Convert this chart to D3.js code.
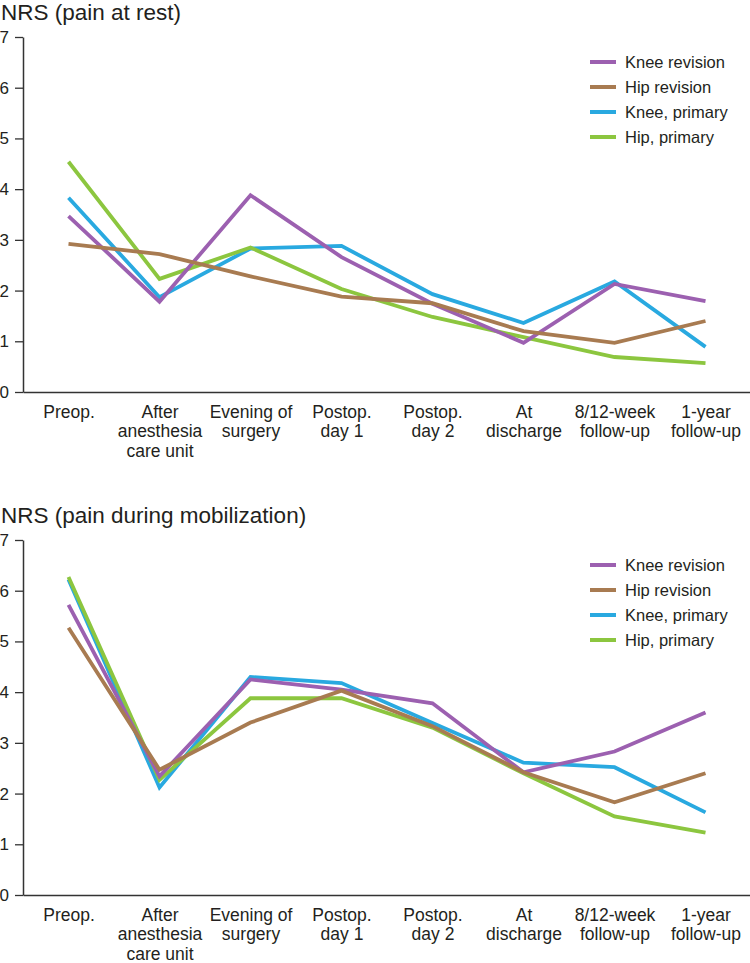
<!DOCTYPE html>
<html>
<head>
<meta charset="utf-8">
<script src="https://cdn.jsdelivr.net/npm/d3@7"></script>
<style>
  body { margin: 0; background: #fff; }
  text { font-family: Arial, "Liberation Sans", Helvetica, sans-serif; fill: #231f20; }
</style>
</head>
<body>
<svg id="chart" width="750" height="963"></svg>
<script>
// time points, one entry per line of the label
const categories = [
  ['Preop.'],
  ['After', 'anesthesia', 'care unit'],
  ['Evening of', 'surgery'],
  ['Postop.', 'day 1'],
  ['Postop.', 'day 2'],
  ['At', 'discharge'],
  ['8/12-week', 'follow-up'],
  ['1-year', 'follow-up']
]
const seriesNames = ['Knee revision', 'Hip revision', 'Knee, primary', 'Hip, primary']
const yTicks = [0, 1, 2, 3, 4, 5, 6, 7]

// NRS pain at rest
const kneeRevRest = [3.47, 1.78, 3.88, 2.66, 1.74, 0.97, 2.13, 1.79]
const hipRevRest = [2.92, 2.72, 2.28, 1.88, 1.75, 1.20, 0.97, 1.40]
const kneePrimRest = [3.83, 1.87, 2.83, 2.88, 1.93, 1.36, 2.18, 0.89]
const hipPrimRest = [4.54, 2.23, 2.85, 2.03, 1.48, 1.08, 0.69, 0.57]

// NRS pain during mobilization
const kneeRevMob = [5.72, 2.34, 4.25, 4.05, 3.78, 2.42, 2.83, 3.60]
const hipRevMob = [5.27, 2.47, 3.40, 4.03, 3.33, 2.42, 1.83, 2.40]
const kneePrimMob = [6.22, 2.12, 4.30, 4.18, 3.39, 2.61, 2.52, 1.63]
const hipPrimMob = [6.27, 2.27, 3.88, 3.88, 3.30, 2.40, 1.55, 1.23]

const colors = {
  'Knee revision': '#9c60b0',
  'Hip revision': '#a87b51',
  'Knee, primary': '#29a9e0',
  'Hip, primary': '#8cc63f'
}
// drawing order (last one ends up on top)
const drawOrder = ['Knee, primary', 'Hip, primary', 'Knee revision', 'Hip revision']

let svg = d3.select('#chart')

let x = d3.scalePoint()
  .domain(d3.range(categories.length))
  .range([23, 751])
  .padding(0.5)

let y = d3.scaleLinear()
  .domain([0, 7])
  .range([392, 37])

function drawPanel(offsetY, title, values) {
  let g = svg.append('g').attr('transform', `translate(0,${offsetY})`)

  g.append('text')
    .attr('x', 1)
    .attr('y', 19.5)
    .attr('font-size', 22.5)
    .text(title)

  // y axis
  let yAxis = g.append('g')
    .attr('transform', 'translate(23,0)')
    .call(d3.axisLeft(y).tickValues(yTicks).tickFormat(d3.format('d')).tickSize(8).tickSizeOuter(0).tickPadding(6))
  yAxis.selectAll('text').attr('font-size', 17).attr('fill', '#231f20')
  yAxis.selectAll('line').attr('stroke', '#333').attr('stroke-width', 1.3)
  yAxis.select('.domain').attr('stroke', '#333').attr('stroke-width', 1.5)

  // x axis, multi-line labels
  let xAxis = g.append('g')
    .attr('transform', `translate(0,${y(0)})`)
    .call(d3.axisBottom(x).tickSize(0).tickSizeOuter(0).tickFormat(''))
  xAxis.select('.domain').attr('stroke', '#333').attr('stroke-width', 1.5)
  xAxis.selectAll('.tick text').remove()
  xAxis.selectAll('.tick').append('text')
    .attr('text-anchor', 'middle')
    .attr('font-size', 17.5)
    .attr('fill', '#231f20')
    .selectAll('tspan')
    .data(i => categories[i])
    .enter().append('tspan')
    .attr('x', 0)
    .attr('y', (d, i) => 25.5 + i * 19.5)
    .text(d => d)

  let line = d3.line()
    .x((d, i) => x(i))
    .y(d => y(d))

  g.append('g')
    .attr('class', 'lines')
    .selectAll('path')
    .data(drawOrder)
    .enter().append('path')
    .attr('d', name => line(values[name]))
    .attr('fill', 'none')
    .attr('stroke', name => colors[name])
    .attr('stroke-width', 3.8)
    .attr('stroke-linejoin', 'miter')

  // legend
  let legend = g.append('g')
    .attr('class', 'legend')
    .selectAll('g')
    .data(seriesNames)
    .enter().append('g')
    .attr('transform', (d, i) => `translate(590,${62 + i * 25})`)
  legend.append('line')
    .attr('x1', 0).attr('x2', 26)
    .attr('stroke', d => colors[d])
    .attr('stroke-width', 4)
  legend.append('text')
    .attr('x', 35)
    .attr('dy', '0.36em')
    .attr('font-size', 16.5)
    .text(d => d)
}

drawPanel(0, 'NRS (pain at rest)', {
  'Knee revision': kneeRevRest,
  'Hip revision': hipRevRest,
  'Knee, primary': kneePrimRest,
  'Hip, primary': hipPrimRest
})

drawPanel(503, 'NRS (pain during mobilization)', {
  'Knee revision': kneeRevMob,
  'Hip revision': hipRevMob,
  'Knee, primary': kneePrimMob,
  'Hip, primary': hipPrimMob
})
</script>
</body>
</html>
